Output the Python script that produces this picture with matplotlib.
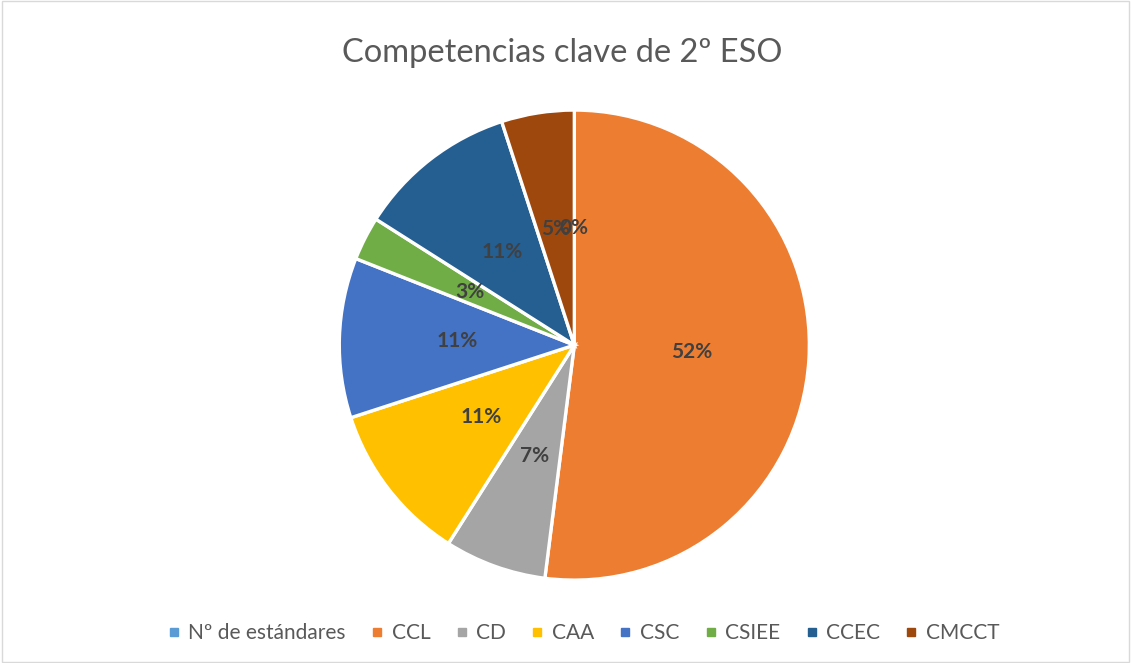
import matplotlib.pyplot as plt
from matplotlib.patches import Rectangle
from matplotlib.lines import Line2D

plt.rcParams['font.family'] = ['Lato', 'DejaVu Sans']

# Data
categories = ['Nº de estándares', 'CCL', 'CD', 'CAA', 'CSC', 'CSIEE', 'CCEC', 'CMCCT']
shares = [0, 52, 7, 11, 11, 3, 11, 5]
colors = ['#5B9BD5', '#ED7D31', '#A5A5A5', '#FFC000', '#4472C4', '#70AD47', '#255E91', '#9E480E']

fig = plt.figure(figsize=(11.31, 6.63), dpi=100)
fig.patches.append(Rectangle((0.002, 0.002), 0.996, 0.996, transform=fig.transFigure,
                             fill=False, edgecolor='#D9D9D9', linewidth=1))

ax = fig.add_axes([0.300, 0.125, 0.4156, 0.709])
wedges, texts, autotexts = ax.pie(
    shares, colors=colors, startangle=90, counterclock=False,
    autopct=lambda p: f'{p:.0f}%', pctdistance=0.5,
    wedgeprops=dict(edgecolor='white', linewidth=2.4),
    textprops=dict(color='#404040', fontsize=15, fontweight='bold'))
ax.set_xlim(-1.0, 1.0)
ax.set_ylim(-1.0, 1.0)
ax.set_aspect('equal')

fig.text(0.497, 0.920, 'Competencias clave de 2º ESO', ha='center', va='center',
         fontsize=23.5, color='#595959')

handles = [Line2D([], [], marker='s', linestyle='', color=c, markersize=6) for c in colors]
fig.legend(handles, categories, loc='center', bbox_to_anchor=(0.515, 0.045), ncol=8,
           frameon=False, fontsize=15, labelcolor='#595959', handletextpad=0.3,
           columnspacing=1.1, handlelength=0.8)

fig.savefig('out.png', dpi=100)
